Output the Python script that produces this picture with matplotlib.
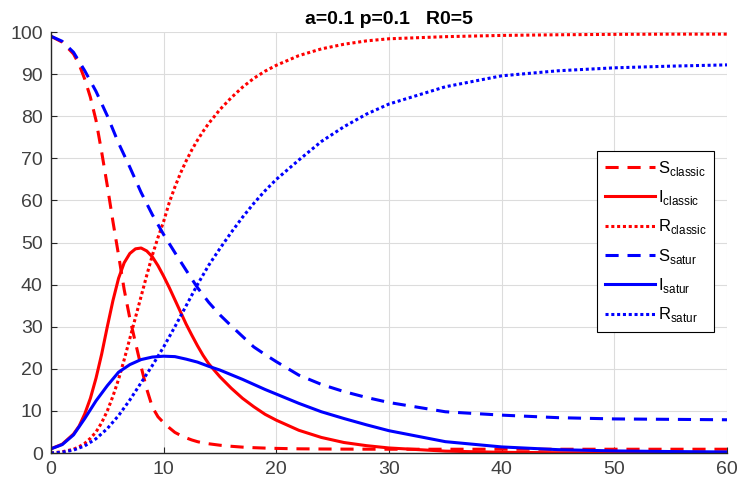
import matplotlib
matplotlib.use('Agg')
import matplotlib.pyplot as plt

# classic model: half-day steps through the fast epidemic phase
t_classic = [0, 1, 2, 2.5, 3, 3.5, 4, 4.5, 5, 5.5, 6, 6.5, 7, 7.5, 8, 8.5, 9,
             9.5, 10, 10.5, 11, 11.5, 12, 12.5, 13, 13.5, 14, 15, 16, 17, 18,
             19, 20, 22, 24, 26, 28, 30, 35, 40, 45, 50, 55, 60]
s_classic = [99.0, 97.6, 94.8, 92.3, 88.8, 84.5, 79.0, 71.5, 63.5, 55.0, 47.0,
             38.8, 32.0, 26.2, 20.5, 15.2, 10.9, 8.6, 7.2, 6.0, 4.9, 4.2, 3.6,
             3.1, 2.7, 2.4, 2.2, 1.85, 1.6, 1.4, 1.27, 1.17, 1.1,
             1.0, 0.96, 0.93, 0.91, 0.9, 0.9, 0.9, 0.9, 0.9, 0.9, 0.9]
i_classic = [1.0, 2.1, 4.5, 6.4, 9.3, 13.0, 17.8, 23.5, 30.0, 36.2, 41.5,
             45.2, 47.4, 48.5, 48.7, 48.0, 46.6, 44.5, 42.0, 39.3, 36.4, 33.5,
             30.6, 28.0, 25.5, 23.2, 21.2, 18.1, 15.4, 13.0, 11.0, 9.2, 7.8,
             5.4, 3.7, 2.5, 1.75, 1.2, 0.45, 0.17, 0.07, 0.03, 0.01, 0.0]
r_classic = [0.0, 0.3, 0.9, 1.5, 2.3, 3.5, 5.0, 7.2, 10.0, 13.5, 17.5, 22.2,
             27.2, 32.2, 37.2, 42.2, 47.0, 51.2, 55.0, 59.5, 63.2, 66.5, 69.4,
             72.0, 74.3, 76.4, 78.3, 81.6, 84.4, 86.9, 89.0, 90.7, 92.1,
             94.4, 96.0, 97.1, 97.9, 98.4, 98.9, 99.2, 99.35, 99.45, 99.5, 99.5]

# saturated-incidence model
t_satur = [0, 1, 2, 3, 4, 5, 6, 7, 8, 9, 10, 11, 12, 13, 14, 15, 16, 17, 18,
           19, 20, 22, 24, 26, 28, 30, 35, 40, 45, 50, 55, 60]
s_satur = [99.0, 97.8, 95.2, 90.8, 85.9, 80.1, 73.6, 67.9, 61.9, 56.6, 51.9,
           47.6, 43.4, 39.3, 35.8, 32.8, 30.2, 27.7, 25.2, 23.4, 21.7,
           18.5, 16.3, 14.6, 13.2, 12.0, 9.8, 9.0, 8.4, 8.1, 8.0, 7.9]
i_satur = [1.0, 2.0, 4.3, 8.2, 12.4, 16.0, 19.2, 21.0, 22.2, 22.8, 23.0,
           22.9, 22.3, 21.6, 20.6, 19.7, 18.6, 17.5, 16.3, 15.1, 14.0,
           11.8, 9.8, 8.2, 6.7, 5.3, 2.7, 1.45, 0.8, 0.5, 0.35, 0.25]
r_satur = [0.0, 0.2, 0.7, 1.7, 3.4, 5.8, 8.9, 12.6, 16.7, 20.8, 25.2,
           30.0, 35.0, 40.0, 44.6, 48.6, 52.4, 56.0, 59.3, 62.3, 65.0,
           69.6, 74.0, 77.5, 80.5, 82.9, 87.0, 89.6, 90.8, 91.5, 91.9, 92.2]

plt.rcParams['font.family'] = 'Liberation Sans'
plt.rcParams['mathtext.fontset'] = 'custom'
plt.rcParams['mathtext.rm'] = 'Liberation Sans'

fig = plt.figure(figsize=(7.55, 4.84), dpi=100)
ax = fig.add_axes([0.0675, 0.064, 0.8954, 0.8698])

lw = 2.2
dash = (4.3, 2.9)
dot = (1.0, 0.9)

ax.plot(t_classic, s_classic, color='red', lw=lw, dashes=dash,
        label=r'S$_{\mathrm{classic}}$')
ax.plot(t_classic, i_classic, color='red', lw=lw, label=r'I$_{\mathrm{classic}}$')
ax.plot(t_classic, r_classic, color='red', lw=lw, dashes=dot, dash_capstyle='butt',
        label=r'R$_{\mathrm{classic}}$')
ax.plot(t_satur, s_satur, color='blue', lw=lw, dashes=dash,
        label=r'S$_{\mathrm{satur}}$')
ax.plot(t_satur, i_satur, color='blue', lw=lw, label=r'I$_{\mathrm{satur}}$')
ax.plot(t_satur, r_satur, color='blue', lw=lw, dashes=dot, dash_capstyle='butt',
        label=r'R$_{\mathrm{satur}}$')

ax.set_xlim(0, 60)
ax.set_ylim(0, 100)
ax.set_xticks(range(0, 61, 10))
ax.set_yticks(range(0, 101, 10))
ax.grid(True, color='#dcdcdc', lw=0.8)
ax.set_axisbelow(True)

for side in ['top', 'right']:
    ax.spines[side].set_visible(False)
for side in ['left', 'bottom']:
    ax.spines[side].set_color('#262626')
    ax.spines[side].set_linewidth(1.0)

ax.tick_params(direction='in', length=4, width=0.8, color='#262626',
               labelcolor='#404040', labelsize=14, pad=6)

ax.set_title('a=0.1 p=0.1   R0=5', fontsize=14, fontweight='bold', pad=6)

leg = ax.legend(loc='upper left', bbox_to_anchor=(0.808, 0.717), fontsize=12,
                handlelength=3.0, handletextpad=0.2, labelspacing=0.62,
                borderpad=0.45, borderaxespad=0, fancybox=False,
                edgecolor='black', framealpha=1)
leg.get_frame().set_linewidth(0.8)

fig.savefig('out.png', dpi=100)
